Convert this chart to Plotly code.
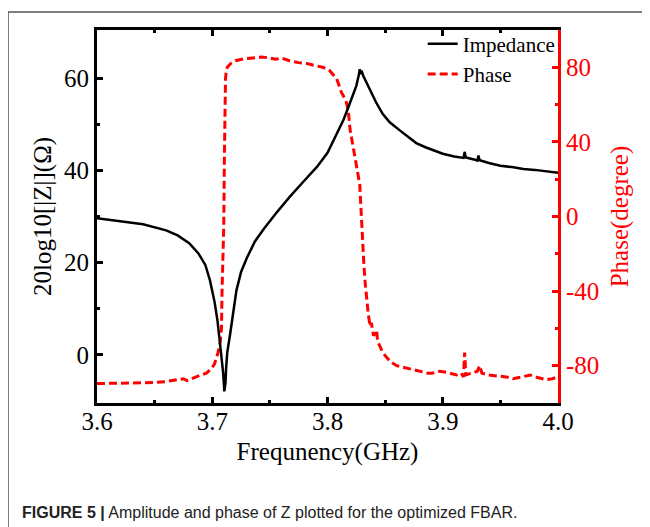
import plotly.graph_objects as go

# ---------------- data ----------------
imp_freq = [3.600, 3.620, 3.640, 3.660, 3.670, 3.680, 3.688, 3.694, 3.698, 3.702,
            3.7045, 3.7067, 3.708, 3.7095, 3.7105, 3.7115, 3.712, 3.713, 3.7155, 3.718,
            3.721, 3.725, 3.730, 3.737, 3.745, 3.755, 3.767, 3.780, 3.791, 3.800,
            3.808, 3.814, 3.818, 3.822, 3.825, 3.827, 3.828, 3.829, 3.8295, 3.831,
            3.834, 3.837, 3.842, 3.848, 3.854, 3.863, 3.870, 3.877, 3.885, 3.892,
            3.900, 3.910, 3.918, 3.919, 3.920, 3.928, 3.930, 3.931, 3.932, 3.940,
            3.950, 3.960, 3.970, 3.980, 3.990, 4.000]
imp_db = [29.6, 29.0, 28.3, 27.0, 25.9, 24.2, 22.0, 19.5, 16.2, 11.5,
          7.5, 2.5, -0.5, -4.0, -7.9, -6.0, -3.0, 0.5, 4.5, 9.0,
          14.0, 18.0, 21.0, 24.6, 27.4, 30.6, 34.2, 37.8, 40.8, 43.8,
          48.0, 51.0, 53.6, 56.3, 58.3, 60.5, 61.9, 60.8, 61.6, 60.5,
          59.0, 57.2, 54.8, 52.2, 50.4, 48.6, 47.2, 45.9, 45.0, 44.3,
          43.6, 43.0, 42.7, 44.0, 42.8, 42.3, 42.1, 43.2, 42.2, 41.6,
          41.0, 40.7, 40.3, 40.1, 39.8, 39.5]

ph_freq = [3.600, 3.620, 3.640, 3.650, 3.660, 3.670, 3.675, 3.678, 3.685, 3.690,
           3.695, 3.700, 3.702, 3.705, 3.707, 3.708, 3.7085, 3.709, 3.710, 3.7105,
           3.711, 3.7115, 3.712, 3.713, 3.716, 3.720, 3.727, 3.735, 3.743, 3.750,
           3.755, 3.760, 3.767, 3.775, 3.782, 3.790, 3.796, 3.802, 3.805, 3.808,
           3.812, 3.816, 3.818, 3.8195, 3.8215, 3.8225, 3.824, 3.826, 3.828, 3.829,
           3.8296, 3.830, 3.8315, 3.8326, 3.834, 3.8354, 3.837, 3.838, 3.840, 3.8426,
           3.8435, 3.8456, 3.848, 3.8514, 3.855, 3.860, 3.867, 3.874, 3.881, 3.887,
           3.891, 3.897, 3.903, 3.908, 3.912, 3.916, 3.918, 3.919, 3.920, 3.925,
           3.930, 3.932, 3.934, 3.940, 3.947, 3.955, 3.961, 3.968, 3.976, 3.983,
           3.990, 3.995, 4.000]
ph_deg = [-89.6, -89.5, -89.2, -89.0, -88.5, -87.5, -87.0, -88.0, -86.0, -85.0,
          -84.0, -81.0, -79.0, -73.0, -67.0, -60.0, -40.0, -25.0, -5.0, 30.0,
          65.0, 74.0, 77.0, 80.0, 82.0, 83.5, 84.5, 85.0, 85.5, 85.0,
          84.3, 85.0, 83.5, 82.5, 82.0, 80.8, 80.0, 78.2, 76.0, 73.8,
          66.7, 62.0, 57.0, 47.0, 40.0, 36.4, 30.0, 24.0, 17.0, 5.0,
          -3.0, -13.0, -25.0, -35.0, -45.0, -52.4, -59.0, -57.0, -64.0, -61.0,
          -67.0, -70.0, -73.0, -75.6, -78.0, -80.0, -81.0, -82.0, -83.0, -84.0,
          -84.0, -83.0, -83.5, -84.5, -85.0, -84.0, -86.0, -73.0, -85.0, -84.0,
          -83.0, -80.0, -84.0, -85.0, -85.5, -86.0, -87.0, -86.0, -85.0, -86.5,
          -87.5, -87.0, -86.0]

x_ticks = [3.6, 3.7, 3.8, 3.9, 4.0]
x_labels = ["3.6", "3.7", "3.8", "3.9", "4.0"]
imp_ticks = [0, 20, 40, 60]
imp_labels = ["0", "20", "40", "60"]
ph_ticks = [-80, -40, 0, 40, 80]
ph_labels = ["-80", "-40", "0", "40", "80"]

SERIF = "Liberation Serif, Times New Roman, serif"
SANS = "Liberation Sans, Arial, sans-serif"

fig = go.Figure()

fig.add_trace(go.Scatter(
    x=ph_freq, y=ph_deg, mode="lines", name="Phase", yaxis="y",
    line=dict(color="#ff0000", width=3, dash="8px,4px"), legendrank=2))
fig.add_trace(go.Scatter(
    x=imp_freq, y=imp_db, mode="lines", name="Impedance", yaxis="y2",
    line=dict(color="black", width=2.5), legendrank=1))

fig.update_layout(
    width=650, height=527,
    margin=dict(l=89, r=100, t=22, b=132),
    paper_bgcolor="white", plot_bgcolor="white",
    showlegend=True,
    legend=dict(x=0.7065, xanchor="left", y=1.017, yanchor="top",
                bgcolor="rgba(0,0,0,0)", font=dict(family=SERIF, size=21, color="black"),
                tracegroupgap=0),
    xaxis=dict(range=[3.6, 4.0], tickvals=x_ticks, ticktext=x_labels,
               ticks="inside", ticklen=6, tickwidth=2.5, tickcolor="black",
               ticklabelstandoff=-6,
               showline=True, linecolor="black", linewidth=3, mirror="ticks",
               showgrid=False, zeroline=False,
               minor=dict(ticks="inside", ticklen=3, tickwidth=2.5, dtick=0.05, tick0=3.6,
                          tickcolor="black", showgrid=False),
               tickfont=dict(family=SERIF, size=25, color="black"),
               title=dict(text="Frequnency(GHz)", font=dict(family=SERIF, size=25, color="black"),
                          standoff=9)),
    yaxis=dict(range=[-100, 100], side="right", tickvals=ph_ticks, ticktext=ph_labels,
               ticks="inside", ticklen=6, tickwidth=2.5, tickcolor="#ff0000",
               showline=True, linecolor="#ff0000", linewidth=3,
               showgrid=False, zeroline=False,
               minor=dict(ticks="inside", ticklen=3, tickwidth=2.5, tickvals=[-60, -20, 20, 60],
                          tickcolor="#ff0000", showgrid=False),
               tickfont=dict(family=SERIF, size=25, color="#ff0000"),
               title=dict(text="Phase(degree)", font=dict(family=SERIF, size=25, color="#ff0000"),
                          standoff=13)),
    yaxis2=dict(range=[-10.4, 70.4], side="left", overlaying="y", tickvals=imp_ticks,
                ticktext=imp_labels,
                ticks="inside", ticklen=6, tickwidth=2.5, tickcolor="black",
                showline=True, linecolor="black", linewidth=3,
                showgrid=False, zeroline=False,
                minor=dict(ticks="inside", ticklen=3, tickwidth=2.5, tickvals=[10, 30, 50],
                           tickcolor="black", showgrid=False),
                tickfont=dict(family=SERIF, size=25, color="black"),
                title=dict(text="20log10[|Z|](Ω)", font=dict(family=SERIF, size=25, color="black"),
                           standoff=6)),
)

# outer figure frame (top and left edges visible)
fx = (8 - 97) / 461
fy = (403 - 12) / 373
fig.add_shape(type="line", xref="paper", yref="paper", x0=fx, x1=1.3, y0=fy, y1=fy,
              line=dict(color="#555555", width=1.5))
fig.add_shape(type="line", xref="paper", yref="paper", x0=fx, x1=fx, y0=fy, y1=-0.45,
              line=dict(color="#555555", width=1.5))

fig.add_annotation(
    xref="paper", yref="paper", x=(20 - 97) / 461, y=(403 - 512) / 373,
    xanchor="left", yanchor="middle", showarrow=False,
    text="<b>FIGURE 5 |</b> Amplitude and phase of Z plotted for the optimized FBAR.",
    font=dict(family=SANS, size=16, color="#222222"))

fig.write_html("out.html")
